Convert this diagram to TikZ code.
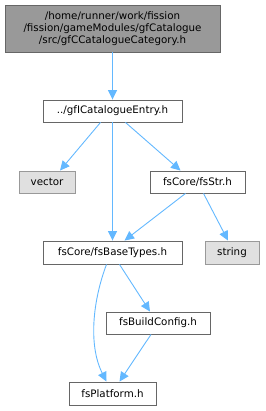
\documentclass[tikz,border=0pt]{standalone}
\usepackage{fontspec}
\setmainfont{DejaVu Sans}
\usetikzlibrary{arrows.meta}
\definecolor{edgeblue}{HTML}{63B8FF}
\definecolor{darkb}{HTML}{666666}
\definecolor{topfill}{HTML}{999999}
\definecolor{extfill}{HTML}{E0E0E0}
\definecolor{extb}{HTML}{999999}
\begin{document}
\begin{tikzpicture}[x=1pt,y=-1pt,
  box/.style={draw=darkb,fill=white,line width=0.9pt,rectangle,inner sep=0pt,font=\fontsize{10.3}{12}\selectfont,text=black},
  extbox/.style={box,draw=extb,fill=extfill},
  topbox/.style={box,fill=topfill,align=center},
  edge/.style={draw=edgeblue,line width=0.9pt,-{Triangle[length=9.5pt,width=9pt]}}]
\useasboundingbox (0,0) rectangle (265,411);
\node[topbox,minimum width=215pt,minimum height=47pt] (top) at (112.5,28.5)
  {/home/runner/work/fission\\/fission/gameModules/gfCatalogue\\/src/gfCCatalogueCategory.h};
\node[box,minimum width=139pt,minimum height=22pt] (gfi) at (112.5,111) {../gfICatalogueEntry.h};
\node[extbox,minimum width=56pt,minimum height=22pt] (vector) at (47,182) {vector};
\node[box,minimum width=95pt,minimum height=22pt] (fsstr) at (197.5,182) {fsCore/fsStr.h};
\node[box,minimum width=139pt,minimum height=23pt] (fsbt) at (112.5,252.5) {fsCore/fsBaseTypes.h};
\node[extbox,minimum width=54pt,minimum height=23pt] (string) at (232,252.5) {string};
\node[box,minimum width=104pt,minimum height=22pt] (fsbc) at (158,323) {fsBuildConfig.h};
\node[box,minimum width=87pt,minimum height=23pt] (fsp) at (112.5,393.5) {fsPlatform.h};
\draw[edge] (top) -- (gfi);
\draw[edge] ([xshift=-12pt]gfi.south) -- ([xshift=13pt]vector.north);
\draw[edge] (gfi) -- (fsbt);
\draw[edge] ([xshift=13pt]gfi.south) -- ([xshift=-17pt]fsstr.north);
\draw[edge] ([xshift=-12pt]fsstr.south) -- ([xshift=12pt]fsbt.north);
\draw[edge] ([xshift=6pt]fsstr.south) -- ([xshift=-4pt]string.north);
\draw[edge] ([xshift=-6pt]fsbt.south) .. controls (93,300) and (88,345) .. ([xshift=-6pt]fsp.north);
\draw[edge] ([xshift=7pt]fsbt.south) -- ([xshift=-8pt]fsbc.north);
\draw[edge] ([xshift=-7pt]fsbc.south) -- ([xshift=7pt]fsp.north);
\end{tikzpicture}
\end{document}
